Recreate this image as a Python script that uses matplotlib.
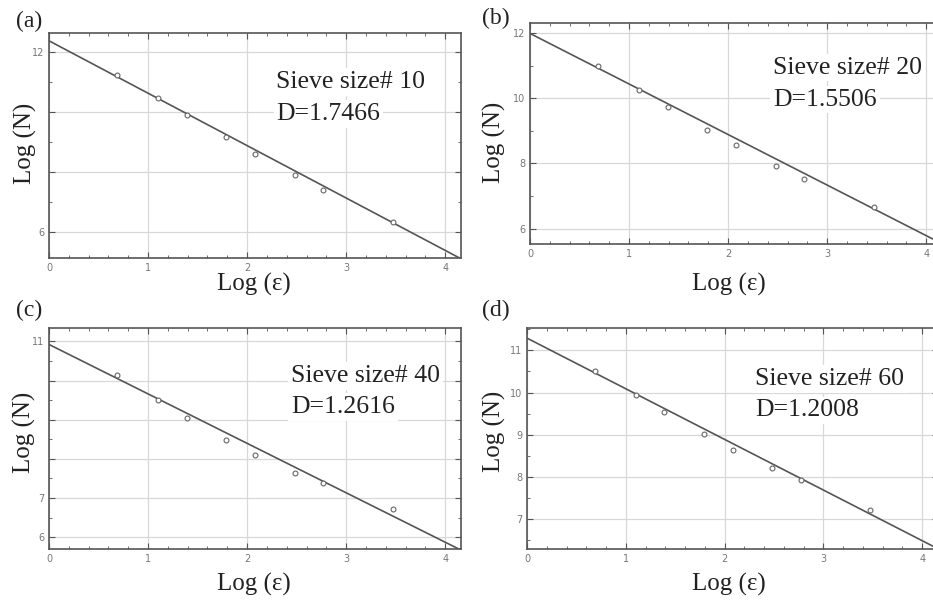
import matplotlib
matplotlib.use("Agg")
import matplotlib.pyplot as plt
import numpy as np
from matplotlib.ticker import AutoMinorLocator

# box sizes, log scale (same for every sieve)
log_eps = [0.69, 1.10, 1.39, 1.79, 2.08, 2.48, 2.77, 3.47]

logn_10 = [11.23, 10.45, 9.90, 9.15, 8.60, 7.89, 7.40, 6.31]
logn_20 = [10.99, 10.24, 9.73, 9.02, 8.56, 7.93, 7.53, 6.68]
logn_40 = [10.14, 9.49, 9.05, 8.48, 8.10, 7.65, 7.38, 6.71]
logn_60 = [10.50, 9.94, 9.54, 9.01, 8.64, 8.21, 7.92, 7.21]

sieves = ["10", "20", "40", "60"]
dims = [1.7466, 1.5506, 1.2616, 1.2008]
intercepts = [12.36, 11.99, 10.92, 11.29]
panel_tags = ["(a)", "(b)", "(c)", "(d)"]

yticks = [[6, 8, 10, 12], [6, 8, 10, 12], [6, 7, 8, 9, 10, 11], [7, 8, 9, 10, 11]]
ytick_labels = [["6", "", "", "12"], ["6", "8", "10", "12"],
                ["6", "7", "", "", "", "11"], ["7", "8", "9", "10", "11"]]
ylims = [(5.12, 12.62), (5.53, 12.31), (5.70, 11.34), (6.29, 11.53)]

W, H = 933, 603
fig = plt.figure(figsize=(W / 100, H / 100), dpi=100)

# axes boxes in pixels: left, top, width, height
boxes = [(49, 33, 412, 225), (530, 23, 412, 221), (49, 328, 412, 221), (527, 328, 411, 221)]
text_pos = [(0.552, 0.756, 0.613), (0.590, 0.771, 0.626), (0.587, 0.756, 0.615), (0.555, 0.743, 0.600)]
tag_pos = [(16, 21), (482, 18), (16, 310), (482, 310)]
ylab_pos = [(25, 143), (494, 142), (24, 432), (494, 431)]
xlab_pos = [(254, 284), (729, 284), (254, 584), (729, 584)]

series = [logn_10, logn_20, logn_40, logn_60]
serif = "Liberation Serif"

for i in range(4):
    l, t, w, h = boxes[i]
    ax = fig.add_axes([l / W, 1 - (t + h) / H, w / W, h / H])
    ax.set_xlim(0, 4.16)
    ax.set_ylim(*ylims[i])

    xs = np.linspace(0, 4.16, 50)
    ax.plot(xs, intercepts[i] - dims[i] * xs, color="#555555", lw=1.2, zorder=3)
    ax.plot(log_eps, series[i], "o", ms=3.5, mfc="white", mec="#666666", mew=0.8, zorder=4)

    ax.set_xticks([0, 1, 2, 3, 4])
    ax.set_yticks(yticks[i])
    ax.set_yticklabels(ytick_labels[i])
    ax.xaxis.set_minor_locator(AutoMinorLocator(5))
    ax.yaxis.set_minor_locator(AutoMinorLocator(2))
    ax.tick_params(which="both", direction="in", top=True, right=True, colors="#555555",
                   labelsize=7, labelcolor="#777777")
    ax.tick_params(which="major", length=4)
    ax.tick_params(which="minor", length=2)
    ax.grid(True, color="#d8d8d8", lw=0.9)
    for s in ax.spines.values():
        s.set_color("#555555")
        s.set_linewidth(1.2)

    tx, ty1, ty2 = text_pos[i]
    ax.text(tx, ty1, "Sieve size# " + sieves[i], transform=ax.transAxes, family=serif,
            fontsize=18.5, color="#222222", va="baseline", zorder=5,
            bbox=dict(facecolor="white", edgecolor="none", pad=2))
    ax.text(tx, ty2, "D=" + str(dims[i]), transform=ax.transAxes, family=serif,
            fontsize=18.5, color="#222222", va="baseline", zorder=5,
            bbox=dict(facecolor="white", edgecolor="none", pad=2))

    fig.text(tag_pos[i][0] / W, 1 - tag_pos[i][1] / H, panel_tags[i], family=serif,
             fontsize=17, color="#222222", va="center", ha="left")
    fig.text(ylab_pos[i][0] / W, 1 - ylab_pos[i][1] / H, "Log (N)", family=serif,
             fontsize=18, color="#222222", va="center", ha="center", rotation=90)
    fig.text(xlab_pos[i][0] / W, 1 - xlab_pos[i][1] / H, "Log (ε)", family=serif,
             fontsize=18, color="#222222", va="center", ha="center")

fig.savefig("out.png", dpi=100)
